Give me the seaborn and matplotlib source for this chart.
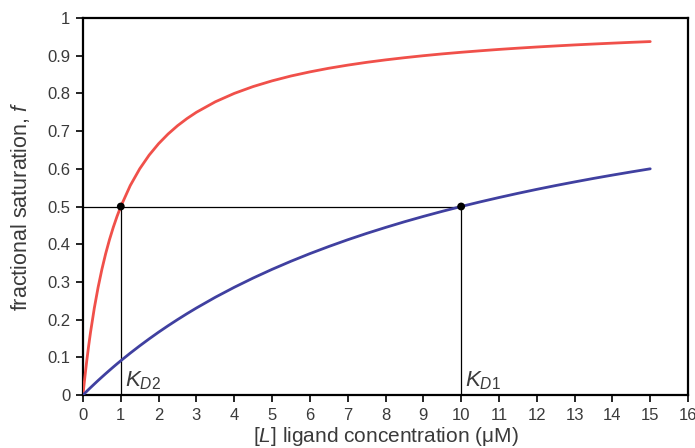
import matplotlib
matplotlib.use("Agg")
import matplotlib.pyplot as plt
import seaborn as sns
import pandas as pd

# Ligand concentration (µM) and fractional saturation readings for the two receptors
conc = [0, 0.02, 0.05, 0.1, 0.15, 0.2, 0.3, 0.4, 0.5, 0.6, 0.7, 0.8, 0.9, 1,
        1.25, 1.5, 1.75, 2, 2.25, 2.5, 2.75, 3, 3.5, 4, 4.5, 5, 5.5, 6, 6.5, 7,
        7.5, 8, 8.5, 9, 9.5, 10, 10.5, 11, 11.5, 12, 12.5, 13, 13.5, 14, 14.5, 15]
sat_high_affinity = [0, 0.0196, 0.0476, 0.0909, 0.1304, 0.1667, 0.2308, 0.2857,
                     0.3333, 0.375, 0.4118, 0.4444, 0.4737, 0.5, 0.5556, 0.6,
                     0.6364, 0.6667, 0.6923, 0.7143, 0.7333, 0.75, 0.7778, 0.8,
                     0.8182, 0.8333, 0.8462, 0.8571, 0.8667, 0.875, 0.8824, 0.8889,
                     0.8947, 0.9, 0.9048, 0.9091, 0.913, 0.9167, 0.92, 0.9231,
                     0.9259, 0.9286, 0.931, 0.9333, 0.9355, 0.9375]
sat_low_affinity = [0, 0.002, 0.005, 0.0099, 0.0148, 0.0196, 0.0291, 0.0385,
                    0.0476, 0.0566, 0.0654, 0.0741, 0.0826, 0.0909, 0.1111, 0.1304,
                    0.1489, 0.1667, 0.1837, 0.2, 0.2157, 0.2308, 0.2593, 0.2857,
                    0.3103, 0.3333, 0.3548, 0.375, 0.3939, 0.4118, 0.4286, 0.4444,
                    0.4595, 0.4737, 0.4872, 0.5, 0.5122, 0.5238, 0.5349, 0.5455,
                    0.5556, 0.5652, 0.5745, 0.5833, 0.5918, 0.6]

# Dissociation constants marked on the chart
kd_values = [1, 10]
kd_labels = ["$K_{D2}$", "$K_{D1}$"]
half_sat = 0.5

x_ticks = list(range(0, 17))
y_ticks = [0, 0.1, 0.2, 0.3, 0.4, 0.5, 0.6, 0.7, 0.8, 0.9, 1]
y_tick_labels = ["0", "0.1", "0.2", "0.3", "0.4", "0.5", "0.6", "0.7", "0.8", "0.9", "1"]

sns.set_style("ticks")
plt.rcParams["font.family"] = ["Liberation Sans", "DejaVu Sans"]
plt.rcParams["mathtext.fontset"] = "custom"
plt.rcParams["mathtext.it"] = "Liberation Sans:italic"
plt.rcParams["mathtext.rm"] = "Liberation Sans"

text_color = "#3a3a3a"

df = pd.DataFrame({
    "conc": conc * 2,
    "f": sat_high_affinity + sat_low_affinity,
    "curve": ["high"] * len(conc) + ["low"] * len(conc),
})

fig = plt.figure(figsize=(6.95, 4.48), dpi=100)
ax = fig.add_axes([0.1194, 0.1183, 0.8706, 0.8415])

sns.lineplot(data=df, x="conc", y="f", hue="curve",
             palette={"high": "#f0504a", "low": "#4040a0"},
             linewidth=2.0, legend=False, ax=ax, zorder=3)

# Half-saturation guide lines
ax.plot([0, kd_values[1]], [half_sat, half_sat], color="black", lw=0.9, zorder=2)
for kd in kd_values:
    ax.plot([kd, kd], [0, half_sat], color="black", lw=0.9, zorder=2)
sns.scatterplot(x=kd_values, y=[half_sat] * len(kd_values), color="black",
                s=32, edgecolor="none", ax=ax, zorder=4)

for kd, lab in zip(kd_values, kd_labels):
    ax.text(kd + 0.1, 0.008, lab, fontsize=16, color=text_color,
            ha="left", va="bottom")

ax.set_xlim(0, 16)
ax.set_ylim(0, 1)
ax.set_xticks(x_ticks)
ax.set_yticks(y_ticks)
ax.set_yticklabels(y_tick_labels)
ax.tick_params(axis="both", direction="out", length=5, width=1.2,
               labelsize=12, labelcolor=text_color, color="black", pad=4)

for side in ["top", "right", "bottom", "left"]:
    ax.spines[side].set_visible(True)
    ax.spines[side].set_color("black")
    ax.spines[side].set_linewidth(1.6)

ax.set_xlabel("[$L$] ligand concentration (μM)", fontsize=15, color=text_color)
ax.set_ylabel("fractional saturation, $f$", fontsize=15.5, color=text_color)
ax.xaxis.label.set_va("center")
ax.yaxis.label.set_va("center")
ax.xaxis.set_label_coords(0.5, -0.109)
ax.yaxis.set_label_coords(-0.104, 0.5)

fig.savefig("out.png", dpi=100)
